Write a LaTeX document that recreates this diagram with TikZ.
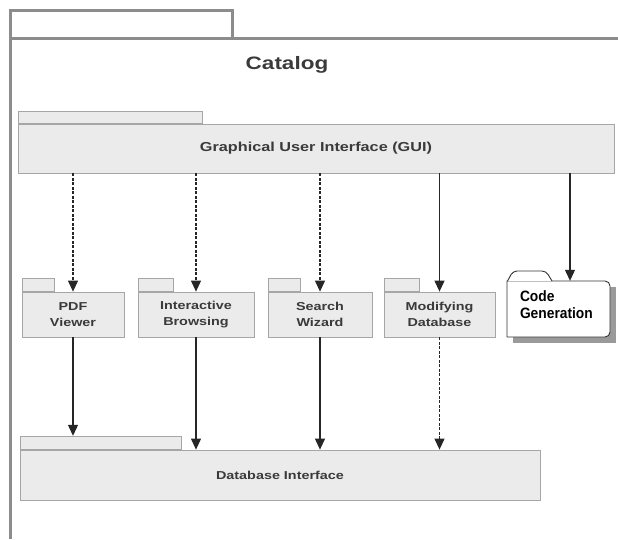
\documentclass[tikz,border=0pt]{standalone}
\usepackage{fontspec}
\setmainfont{Liberation Sans}
\newfontfamily\pkgfont[FakeStretch=1.25]{Liberation Sans}
\newfontfamily\cgfont[FakeStretch=0.92]{Liberation Sans}
\usepackage{tikz}
\usetikzlibrary{arrows.meta}
\definecolor{pkgfill}{HTML}{EBEBEB}
\definecolor{pkgline}{HTML}{A6A6A6}
\definecolor{framegray}{HTML}{8C8C8C}
\definecolor{inkgray}{HTML}{3A3A3A}
\definecolor{shadegray}{HTML}{9A9A9A}

\begin{document}
\begin{tikzpicture}[x=1pt, y=-1pt,
  pkg/.style={draw=pkgline, fill=pkgfill, line width=0.8pt, inner sep=0pt, align=center, text=inkgray,
    font=\pkgfont\bfseries\fontsize{11.5}{16}\selectfont},
  tab/.style={draw=pkgline, fill=pkgfill, line width=0.8pt, inner sep=0pt, anchor=south west},
  uses/.style={draw=black!85, line width=1.1pt, -{Triangle[width=10pt,length=11pt]}},
  imports/.style={uses, dash pattern=on 3pt off 1.5pt}]
\useasboundingbox (0,0) rectangle (618,539);
% outer frame
\draw[framegray, line width=3pt] (10,539) -- (10,38) -- (618,38);
\draw[framegray, line width=3pt] (10,38) -- (10,10) -- (232,10) -- (232,38);
\node[font=\pkgfont\bfseries\fontsize{18}{20}\selectfont, text=inkgray] (catalog) at (287,65) {Catalog};
% packages
\node[pkg, minimum width=596pt, minimum height=49pt, font=\pkgfont\bfseries\fontsize{13}{16}\selectfont] (gui) at (316,148.5) {Graphical User Interface (GUI)};
\node[tab, minimum width=184pt, minimum height=12pt] (guitab) at (gui.north west) {};
\node[pkg, minimum width=102pt, minimum height=45pt] (pdf) at (73,314.5) {PDF\\Viewer};
\node[tab, minimum width=32pt, minimum height=13pt] (pdftab) at (pdf.north west) {};
\node[pkg, minimum width=116pt, minimum height=45pt] (ib) at (196,314.5) {Interactive\\Browsing};
\node[tab, minimum width=35pt, minimum height=13pt] (ibtab) at (ib.north west) {};
\node[pkg, minimum width=104pt, minimum height=45pt] (sw) at (320,314.5) {Search\\Wizard};
\node[tab, minimum width=32pt, minimum height=13pt] (swtab) at (sw.north west) {};
\node[pkg, minimum width=111pt, minimum height=45pt] (md) at (439.5,314.5) {Modifying\\Database};
\node[tab, minimum width=35pt, minimum height=13pt] (mdtab) at (md.north west) {};
\node[pkg, minimum width=520pt, minimum height=50pt] (db) at (280,475) {Database Interface};
\node[tab, minimum width=161pt, minimum height=13pt] (dbtab) at (db.north west) {};
% code generation
\fill[shadegray] (513,287) rectangle (616,343);
\draw[black!80, line width=0.9pt, fill=white] (507,337) -- (507,281) {[rounded corners=5pt] -- (610,281) -- (610,337)} -- cycle;
\draw[black!80, line width=0.9pt, fill=white, rounded corners=4pt] (507.5,281) -- (513,271) -- (546,271) -- (552,281);
\node[inner xsep=13pt, inner ysep=0pt, text width=77pt, minimum height=47pt, align=left,
  font=\cgfont\bfseries\fontsize{15}{17}\selectfont] (cg) at (558.5,304.5) {Code\\Generation};
\coordinate (cgtip) at ([xshift=11.5pt]cg.north);
% dependencies
\draw[imports] (gui.south -| pdf.north) -- (pdf.north);
\draw[imports] (gui.south -| ib.north) -- (ib.north);
\draw[imports] (gui.south -| sw.north) -- (sw.north);
\draw[uses] (gui.south -| md.north) -- (md.north);
\draw[uses] (gui.south -| cgtip) -- (cgtip);
\draw[uses] (pdf.south) -- (dbtab.north -| pdf.south);
\draw[uses] (ib.south) -- (db.north -| ib.south);
\draw[uses] (sw.south) -- (db.north -| sw.south);
\draw[imports] (md.south) -- (db.north -| md.south);
\end{tikzpicture}
\end{document}
